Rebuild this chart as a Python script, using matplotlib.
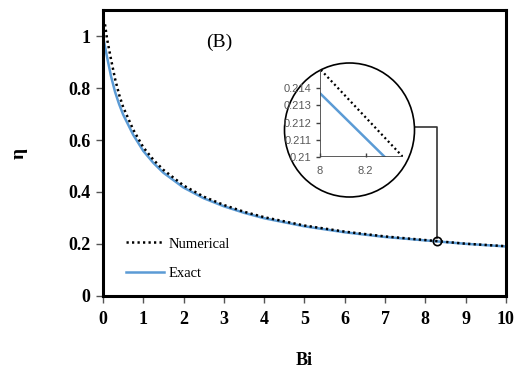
import numpy as np
import matplotlib
matplotlib.use('Agg')
import matplotlib.pyplot as plt
from matplotlib.patches import Ellipse

# Data
bi_exact = [0, 0.05, 0.1, 0.2, 0.3, 0.4, 0.5, 0.75, 1, 1.25, 1.5, 2, 2.5, 3,
            3.5, 4, 5, 6, 7, 8, 9, 10]
eta_exact = [1.0, 0.96, 0.92, 0.845, 0.785, 0.738, 0.698, 0.62, 0.558, 0.512,
             0.474, 0.417, 0.376, 0.345, 0.320, 0.299, 0.268, 0.245, 0.227,
             0.2137, 0.2007, 0.1905]

bi_num = [0.05, 0.1, 0.2, 0.3, 0.4, 0.5, 0.75, 1, 1.25, 1.5, 2, 2.5, 3, 3.5,
          4, 5, 6, 7, 8, 9, 10]
eta_num = [1.045, 0.99, 0.91, 0.835, 0.775, 0.727, 0.64, 0.572, 0.524, 0.485,
           0.425, 0.382, 0.350, 0.324, 0.303, 0.271, 0.2475, 0.229, 0.2151,
           0.2011, 0.1915]

x_ticks = list(range(11))
y_ticks = [0, 0.2, 0.4, 0.6, 0.8, 1.0]
y_tick_labels = ['0', '0.2', '0.4', '0.6', '0.8', '1']

inset_x_ticks = [8, 8.2]
inset_x_labels = ['8', '8.2']
inset_y_ticks = [0.21, 0.211, 0.212, 0.213, 0.214]
inset_y_labels = ['0.21', '0.211', '0.212', '0.213', '0.214']

zoom_point = (8.3, 0.21)

blue = '#5b9bd5'
serif = 'Liberation Serif'

fig = plt.figure(figsize=(5.27, 3.71), dpi=100)
ax = fig.add_axes([0.1954, 0.2022, 0.7646, 0.7708])

ax.plot(bi_exact, eta_exact, color=blue, lw=1.8, label='Exact', zorder=2)
ax.plot(bi_num, eta_num, color='black', lw=1.8, linestyle=(0, (0.9, 1.3)),
        label='Numerical', zorder=3)

ax.set_xlim(0, 10)
ax.set_ylim(0, 1.1)
ax.set_xticks(x_ticks)
ax.set_xticklabels([str(t) for t in x_ticks])
ax.set_yticks(y_ticks)
ax.set_yticklabels(y_tick_labels)
for lab in ax.get_xticklabels() + ax.get_yticklabels():
    lab.set_fontfamily(serif)
    lab.set_fontweight('bold')
    lab.set_fontsize(13)
ax.tick_params(axis='both', direction='out', length=5, width=1,
               color='#555555')
ax.tick_params(axis='x', pad=6)
ax.tick_params(axis='y', pad=4)
for sp in ax.spines.values():
    sp.set_linewidth(2.2)
    sp.set_color('black')

ax.set_xlabel('Bi', fontfamily=serif, fontweight='bold', fontsize=13,
              labelpad=17)
ax.set_ylabel('η', fontfamily=serif, fontweight='bold', fontsize=14,
              labelpad=29)

ax.text(0.257, 0.888, '(B)', transform=ax.transAxes, fontfamily=serif,
        fontsize=14, va='center', ha='left')

leg = ax.legend(handles=ax.lines[::-1], loc='upper left',
                bbox_to_anchor=(0.058, 0.205), frameon=False,
                prop={'family': serif, 'size': 10.5},
                handlelength=2.6, handletextpad=0.3, labelspacing=1.1,
                borderpad=0, borderaxespad=0)

# zoom marker and connector
ax.plot([zoom_point[0]], [zoom_point[1]], marker='o', ms=6, mfc='none',
        mec='black', mew=1.2, zorder=5, clip_on=False)
ax.plot([7.70, 8.30, 8.30], [0.651, 0.651, 0.222], color='#333333', lw=1.2,
        clip_on=False, zorder=4)

# circular inset
circ = Ellipse((349.5 / 527, 1 - 130 / 371), 130 / 527, 134 / 371,
               transform=fig.transFigure, facecolor='white',
               edgecolor='black', lw=1.2, zorder=10)
fig.patches.append(circ)

axin = fig.add_axes([0.6072, 0.576, 0.1575, 0.238], zorder=11)
axin.patch.set_visible(False)
axin.plot(bi_exact, eta_exact, color=blue, lw=1.8)
axin.plot(bi_num, eta_num, color='black', lw=1.6, linestyle=(0, (0.9, 1.3)))
axin.set_xlim(8, 8.363)
axin.set_ylim(0.21, 0.2151)
axin.set_xticks(inset_x_ticks)
axin.set_xticklabels(inset_x_labels)
axin.set_yticks(inset_y_ticks)
axin.set_yticklabels(inset_y_labels)
axin.spines['top'].set_visible(False)
axin.spines['right'].set_visible(False)
for side in ['left', 'bottom']:
    axin.spines[side].set_color('#404040')
    axin.spines[side].set_linewidth(1.2)
axin.tick_params(axis='both', length=3, width=1, color='#404040',
                 labelcolor='#595959', labelsize=8, pad=3)
axin.tick_params(axis='x', direction='in', pad=6)
for lab in axin.get_xticklabels() + axin.get_yticklabels():
    lab.set_fontfamily('Liberation Sans')
    lab.set_clip_path(circ)
for art in axin.lines + list(axin.spines.values()):
    art.set_clip_path(circ)

fig.savefig('out.png', dpi=100)
